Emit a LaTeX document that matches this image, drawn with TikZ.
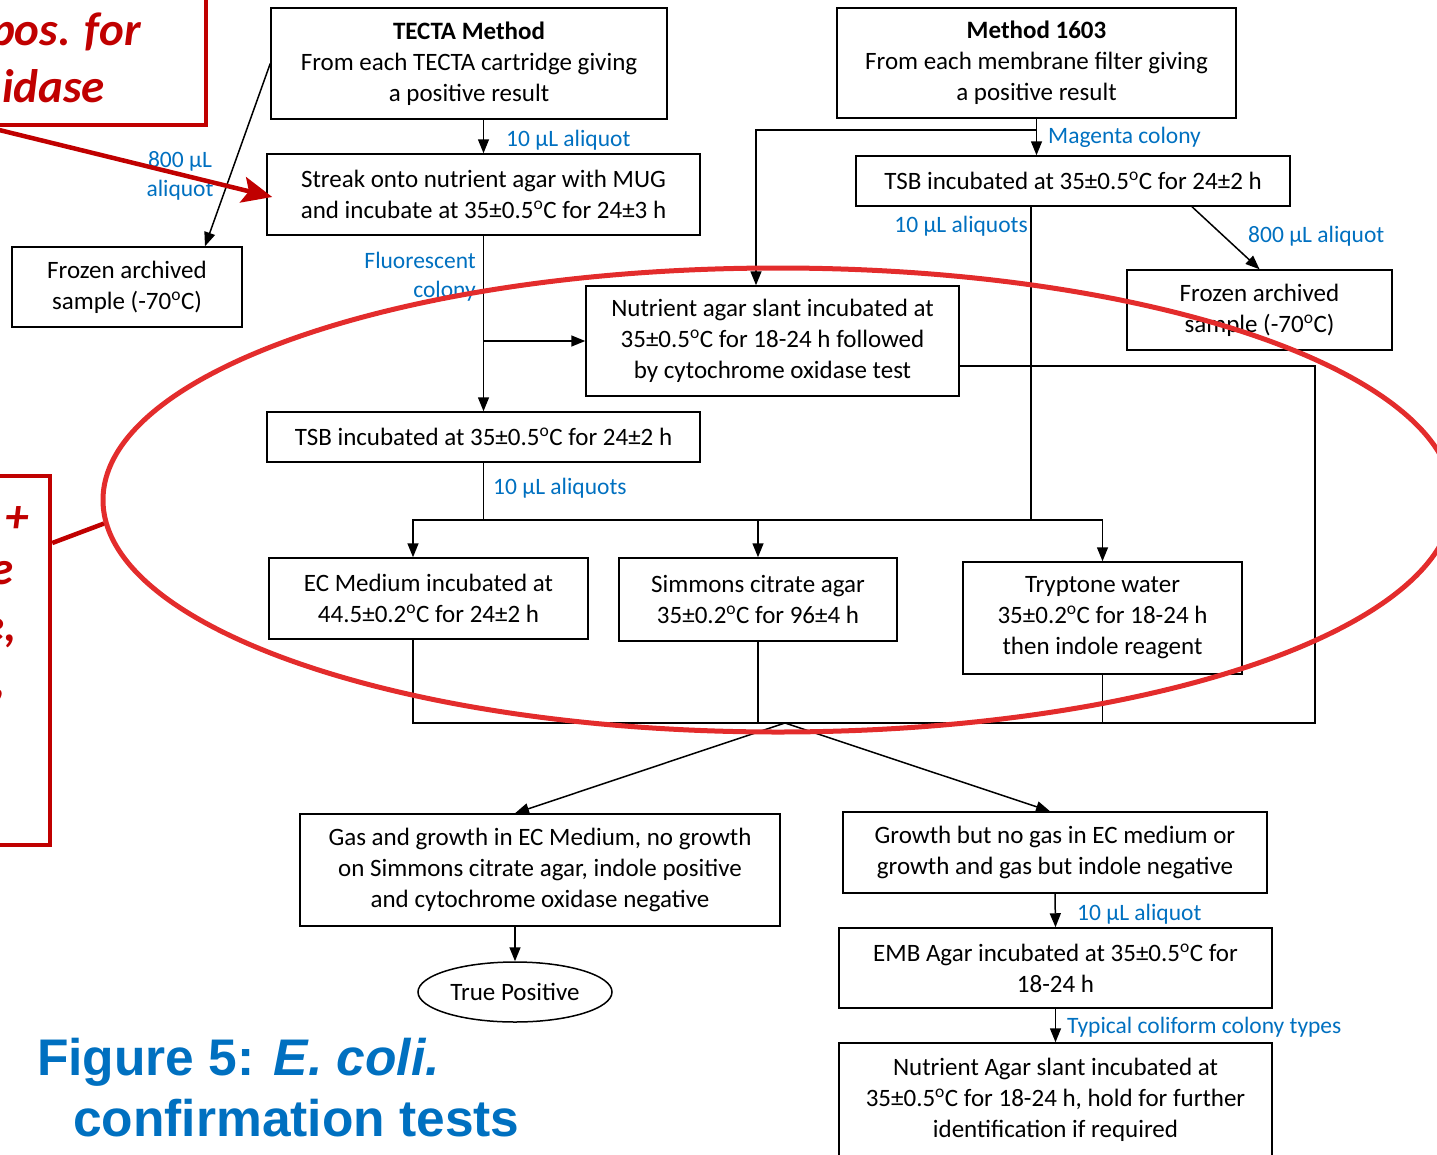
\documentclass[tikz,border=0pt]{standalone}
\usepackage{fontspec}
\setmainfont{Carlito}
\newfontfamily\headfont{Liberation Sans}
\usepackage{tikz}
\usetikzlibrary{arrows.meta,positioning,shapes.geometric}
\definecolor{ink}{HTML}{000000}
\definecolor{lblue}{HTML}{0070C0}
\definecolor{rubric}{HTML}{C00000}
\definecolor{ringred}{HTML}{E32C2C}
\newcommand{\dgo}{\textsuperscript{o}}

\begin{document}
\begin{tikzpicture}[x=1pt,y=-1pt,
  box/.style={draw=ink,line width=1.5pt,align=center,inner sep=0pt,font=\fontsize{25}{31}\selectfont},
  lbl/.style={text=lblue,inner sep=0pt,font=\fontsize{23.5}{29}\selectfont},
  link/.style={line width=1.5pt},
  arr/.style={link,-{Triangle[length=14pt,width=11pt]}},
  redline/.style={draw=rubric,line width=4.5pt},
  redtxt/.style={text=rubric,inner sep=0pt,font=\fontsize{47}{58}\selectfont\bfseries\itshape},
  >=Triangle]
\useasboundingbox (0,0) rectangle (1437,1154);

% callouts on the left
\node[redline,minimum width=512pt,minimum height=170pt] (redT) at (-50,40) {};
\node[redline,minimum width=200pt,minimum height=369pt] (redL) at (-50,660.5) {};
\node[redtxt,anchor=base east] (redT1) at (141,45) {pos. for};
\node[redtxt,anchor=base east] (redT2) at (105,102) {idase};
\node[redtxt,anchor=base east] (redL1) at (29,532) {+};
\node[redtxt,anchor=base east] (redL2) at (14,584) {e};
\node[redtxt,anchor=base east] (redL3) at (17,641) {e,};
\node[redtxt,anchor=base east] (redL4) at (6,696) {,};

% boxes
\node[box,minimum width=396pt,minimum height=111pt] (tecta) at (469,63.5) {\textbf{TECTA Method}\\From each TECTA cartridge giving\\a positive result};
\node[box,minimum width=399pt,minimum height=110pt] (m1603) at (1036.5,63) {\textbf{Method 1603}\\From each membrane filter giving\\a positive result};
\node[box,minimum width=433pt,minimum height=81pt] (streak) at (483.5,194.5) {Streak onto nutrient agar with MUG\\and incubate at 35±0.5\dgo C for 24±3 h};
\node[box,minimum width=230pt,minimum height=80pt] (frozL) at (127,287) {Frozen archived\\sample (-70\dgo C)};
\node[box,minimum width=434pt,minimum height=50pt] (tsbR) at (1073,181) {TSB incubated at 35±0.5\dgo C for 24±2 h};
\node[box,minimum width=265pt,minimum height=80pt] (frozR) at (1259.5,310) {Frozen archived\\sample (-70\dgo C)};
\node[box,minimum width=373pt,minimum height=110pt] (slant) at (772.5,341) {Nutrient agar slant incubated at\\35±0.5\dgo C for 18-24 h followed\\by cytochrome oxidase test};
\node[box,minimum width=433pt,minimum height=50pt] (tsbL) at (483.5,437) {TSB incubated at 35±0.5\dgo C for 24±2 h};
\node[box,minimum width=319pt,minimum height=81pt] (ec) at (428.5,598.5) {EC Medium incubated at\\44.5±0.2\dgo C for 24±2 h};
\node[box,minimum width=278pt,minimum height=83pt] (sim) at (758,599.5) {Simmons citrate agar\\35±0.2\dgo C for 96±4 h};
\node[box,minimum width=279pt,minimum height=112pt] (tryp) at (1102.5,618) {Tryptone water\\35±0.2\dgo C for 18-24 h\\then indole reagent};
\node[box,minimum width=480pt,minimum height=112pt] (gas) at (540,870) {Gas and growth in EC Medium, no growth\\on Simmons citrate agar, indole positive\\and cytochrome oxidase negative};
\node[box,minimum width=424pt,minimum height=81pt] (grow) at (1055,852.5) {Growth but no gas in EC medium or\\growth and gas but indole negative};
\node[box,minimum width=433pt,minimum height=80pt] (emb) at (1055.5,968) {EMB Agar incubated at 35±0.5\dgo C for\\18-24 h};
\node[box,minimum width=433pt,minimum height=114pt] (nas) at (1055.5,1100) {Nutrient Agar slant incubated at\\35±0.5\dgo C for 18-24 h, hold for further\\identification if required};
\node[box,ellipse,minimum width=194pt,minimum height=60pt] (tp) at (515,992) {True Positive};

% title
\node[anchor=base west,inner sep=0pt,text=lblue,font=\headfont\fontsize{51.5}{60}\selectfont\bfseries] (fig1) at (37,1075) {Figure 5: \textit{E. coli.}};
\node[anchor=base west,inner sep=0pt,text=lblue,font=\headfont\fontsize{51.5}{60}\selectfont\bfseries] (fig2) at (73,1136) {confirmation tests};

% junctions
\coordinate (mj) at (1036.5,130);
\coordinate (dist) at (483.5,520);
\coordinate (colR) at (1315,723);
\coordinate (split) at (785,723);

% connectors
\draw[arr] (tecta.south -| streak.north) -- (streak.north);
\node[lbl,anchor=west] (l1) at (506,140) {10 µL aliquot};
\draw[arr] (tecta.west) -- ([xshift=78pt]frozL.north);
\node[lbl,align=center] (l2) at (180,176) {800 µL\\aliquot};
\draw[arr] (m1603.south) -- (m1603.south |- tsbR.north);
\draw[arr] (mj) -| ([xshift=-16.5pt]slant.north);
\node[lbl,anchor=west] (l3) at (1048,137) {Magenta colony};
\draw[link] ([xshift=-42pt]tsbR.south) -- ([xshift=-42pt]tsbR.south |- dist);
\node[lbl,anchor=east] (l4) at (1028,226) {10 µL aliquots};
\draw[arr] ([xshift=119pt]tsbR.south) -- (frozR.north);
\node[lbl,anchor=west] (l5) at (1248,236) {800 µL aliquot};
\draw[arr] (streak.south) -- (tsbL.north);
\draw[arr] (streak.south |- slant.west) -- (slant.west);
\node[lbl,anchor=east,align=right] (l6) at (476,277) {Fluorescent\\colony};
\draw[link] (tsbL.south) -- (dist);
\node[lbl,anchor=west] (l7) at (493,488) {10 µL aliquots};
\draw[arr] (dist) -| ([xshift=-15.5pt]ec.north);
\draw[arr] (dist) -| (tryp.north);
\draw[arr] (sim.north |- dist) -- (sim.north);
\draw[link] ([yshift=-25pt]slant.east) -| (colR) -- ([xshift=-15.5pt]ec.south |- colR) -- ([xshift=-15.5pt]ec.south);
\draw[link] (sim.south) -- (sim.south |- colR);
\draw[link] (tryp.south) -- (tryp.south |- colR);
\draw[arr] (split) -- ([xshift=-25pt]gas.north);
\draw[arr] (split) -- ([xshift=-5pt]grow.north);
\draw[arr] ([xshift=-25pt]gas.south) -- (tp.north);
\draw[arr] (grow.south) -- (emb.north);
\node[lbl,anchor=west] (l8) at (1077,914) {10 µL aliquot};
\draw[arr] (emb.south) -- (nas.north);
\node[lbl,anchor=west] (l9) at (1067,1027) {Typical coliform colony types};

% highlight ring and red links
\node[ellipse,draw=ringred,line width=5pt,minimum width=1350pt,minimum height=464pt,inner sep=0pt] (ring) at (778,500) {};
\draw[redline] (ring.182) -- ([yshift=117.5pt]redL.east);
\draw[redline,-{Stealth[length=30pt,width=26pt,inset=6pt]}] ([xshift=38pt]redT.south) -- ([xshift=6pt,yshift=-2.5pt]streak.west);
\end{tikzpicture}
\end{document}
